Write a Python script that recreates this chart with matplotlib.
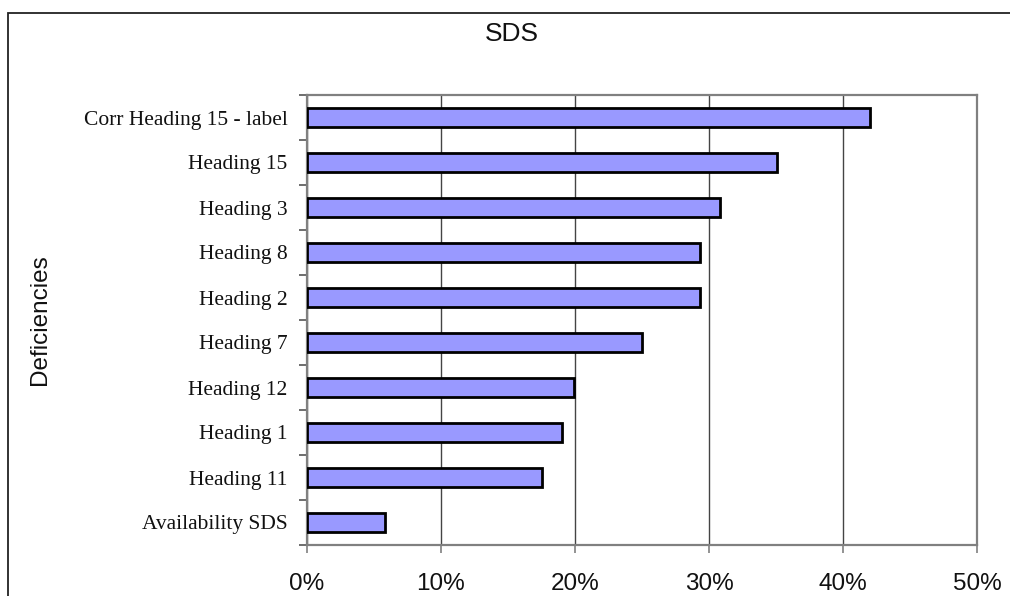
import matplotlib.pyplot as plt
from matplotlib.patches import Rectangle
from matplotlib.ticker import FixedLocator, FuncFormatter

# Deficiency categories, top to bottom, and their share (%)
categories = [
    "Corr Heading 15 - label",
    "Heading 15",
    "Heading 3",
    "Heading 8",
    "Heading 2",
    "Heading 7",
    "Heading 12",
    "Heading 1",
    "Heading 11",
    "Availability SDS",
]
shares = [42.0, 35.1, 30.8, 29.3, 29.3, 25.0, 19.9, 19.0, 17.5, 5.8]
x_ticks = [0, 10, 20, 30, 40, 50]

fig = plt.figure(figsize=(10.10, 5.96), dpi=100)
fig.patch.set_facecolor("white")

# Chart area frame (runs off the right and bottom edges)
fig.patches.append(Rectangle((8 / 1010, -0.05), 1.05, 1 - 13 / 596 + 0.05,
                             transform=fig.transFigure, fill=False,
                             edgecolor="#222222", linewidth=1.3))

ax = fig.add_axes([307 / 1010, 1 - 545 / 596, 670 / 1010, 450 / 596])

ypos = list(range(len(categories)))
ax.barh(ypos, shares, height=0.42, color="#9999ff",
        edgecolor="black", linewidth=2.0, zorder=3)

ax.set_xlim(0, 50)
ax.set_ylim(len(categories) - 0.5, -0.5)

ax.set_xticks(x_ticks)
ax.xaxis.set_major_formatter(FuncFormatter(lambda v, p: f"{v:.0f}%"))
ax.tick_params(axis="x", length=6, width=1.2, color="#808080", pad=14,
               labelsize=17.5, labelcolor="#111111")
for lab in ax.get_xticklabels():
    lab.set_fontfamily("Liberation Sans")

ax.set_yticks(ypos)
ax.set_yticklabels(categories, fontfamily="Liberation Serif", fontsize=15.5,
                   color="#111111")
ax.tick_params(axis="y", which="major", length=0, pad=14)
ax.yaxis.set_minor_locator(FixedLocator([i - 0.5 for i in range(len(categories) + 1)]))
ax.tick_params(axis="y", which="minor", length=6, width=1.2, color="#555555")

ax.grid(axis="x", color="#444444", linewidth=1.0, zorder=0)
ax.set_axisbelow(True)
for side in ax.spines.values():
    side.set_color("#808080")
    side.set_linewidth(1.6)

fig.text(512 / 1010, 1 - 34 / 596, "SDS", ha="center", va="center",
         fontfamily="Liberation Sans", fontsize=19, color="#111111")
fig.text(40 / 1010, 1 - 320 / 596, "Deficiencies", ha="center", va="center",
         rotation=90, fontfamily="Liberation Sans", fontsize=17.5,
         color="#111111")

fig.savefig("out.png", dpi=100)
